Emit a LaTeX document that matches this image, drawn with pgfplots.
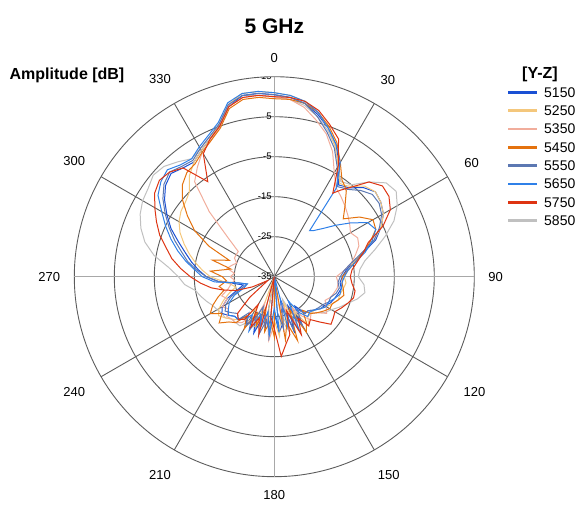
\documentclass[border=0pt]{standalone}
\usepackage{fontspec}
\setmainfont{Liberation Sans}
\usepackage{pgfplots}
\pgfplotsset{compat=1.18}
\usepackage{pgfplotstable}
\usepgfplotslibrary{polar}

\definecolor{c5150}{HTML}{1A50D4}
\definecolor{c5250}{HTML}{F4C77C}
\definecolor{c5350}{HTML}{F1AD9C}
\definecolor{c5450}{HTML}{E4720E}
\definecolor{c5550}{HTML}{5C78B2}
\definecolor{c5650}{HTML}{2F80E8}
\definecolor{c5750}{HTML}{DE3412}
\definecolor{c5850}{HTML}{C0C0C0}
\definecolor{griddark}{HTML}{5C5C5C}
\definecolor{gridlight}{HTML}{A8A8A8}

% compass angle (clockwise from top), amplitude in dB per frequency
\pgfplotstableread{
a     s5150 s5250 s5350 s5450 s5550 s5650 s5750 s5850
0     10.5  11    10    9.5   10.5  11    10    10
5     10    10.5  9.5   9.5   10    10.5  10    9.5
10    9     9.5   8     9     9     9.5   9.5   8.5
15    7     7.5   5.5   7.5   6.5   7.5   8     6.5
20    4.5   4.5   3     5     3.5   4.5   5.5   4
25    1.5   1     -0.5  2     0.5   1.5   3     1
30    -2.5  -3    -5    -2    -3.5  -2    -3    -3
35    -7    -6.5  -8    -5.5  -7.5  -8    -9.5  -6
37.5  -6.5  -6.2  -8.5  -6.2  -7    -20.5 -7.7  -5.5
40    -6    -5.5  -9    -7    -6.5  -20   -6    -5
45    -3.5  -3    -10   -10   -4.5  -18   -1.5  -1.5
50    -2    -2    -11   -12.5 -3    -15   0.3   1.5
55    -2.5  -2.5  -12   -9    -3    -11.5 0     2.2
60    -3.5  -3.5  -13   -6.5  -4    -8    -1.5  0.5
65    -5.5  -5.5  -12   -7    -6    -7    -5    -2
70    -8    -8.5  -12.5 -9.5  -8.5  -9    -10   -5.5
75    -12   -12.5 -14   -12   -12.5 -11.5 -12   -9
80    -15   -15   -15.5 -14.5 -15.5 -14.5 -14   -12
85    -17   -16.5 -17.5 -16.5 -17.5 -16.5 -15.5 -13.5
90    -18   -17.5 -19.5 -18   -18.5 -17.5 -16   -14
95    -18.5 -17   -19   -18   -19   -18   -15.5 -12.5
100   -18   -17.5 -19   -17.5 -18.5 -18   -14.5 -12
105   -18.5 -18   -19.5 -17   -19   -18   -14.5 -13.5
110   -19   -18   -20   -18   -20   -19   -15.5 -15.5
115   -19.5 -19   -21   -19   -20   -20   -16.5 -17
120   -20.5 -20   -20   -19   -21   -20   -17.5 -18.5
125   -21   -21   -19   -20   -21.5 -21   -17   -19.5
130   -22   -22   -21   -21   -22   -22   -16.5 -21
135   -23   -22   -22   -22   -23   -22.5 -19   -22
140   -23   -22   -21   -24   -23   -22   -21   -24
145   -26   -20   -23   -21   -25   -24   -20   -26
150   -22   -25   -26   -19   -21   -28   -23   -22
155   -27   -21   -22   -26   -24   -20   -19   -25
160   -20   -28   -25   -18   -21   -25   -26   -29
165   -29   -22   -28   -23   -27   -22   -20   -21
170   -23   -26   -21   -19   -22   -35   -18   -24
175   -21   -20   -33   -35   -26   -21   -15   -22
180   -26   -24   -23   -20   -35   -27   -22   -26
185   -35   -21   -19   -24   -21   -20   -25   -19
190   -22   -27   -25   -21   -24   -26   -35   -35
195   -25   -35   -22   -27   -20   -22   -20   -23
200   -20   -22   -28   -22   -27   -25   -24   -21
205   -24   -21   -22   -25   -23   -20   -21   -25
210   -21   -26   -24   -20   -21   -24   -27   -22
215   -23   -22   -21   -23   -24   -22   -22   -20
220   -21   -21   -20   -20   -21   -21   -21   -20
225   -21   -20   -20   -19   -22   -21   -22   -20
230   -20   -19   -19.5 -17   -21   -20   -27   -19
235   -19   -18   -21   -19   -20   -21   -32   -19
240   -20   -19   -20   -16.5 -21   -22   -33   -18.5
245   -22   -21   -22   -18   -23   -24   -29   -18
250   -25   -23   -21   -20   -26   -27   -25   -17
255   -27   -25   -23   -22   -28   -28   -22   -16
260   -25   -24   -24   -21   -26   -26   -19   -15
265   -21   -22   -25   -23   -21   -20   -16.5 -12.5
270   -18   -19   -24   -22   -18   -17   -14   -11
275   -16   -17   -25   -19   -15.5 -15   -11.5 -8.5
280   -14   -15   -23   -24   -13   -12.5 -9    -4.5
285   -12   -13   -24   -19   -11   -10   -7    -1.5
290   -9.5  -11   -25   -23   -8.5  -7.5  -4.5  0.5
295   -6.5  -9    -24   -17   -6    -5    -2.5  2
300   -4    -7.5  -24   -12   -3.5  -2.5  -0.5  3
305   -1.5  -6.5  -24   -8.5  -1    0.5   1.5   3.5
310   0.5   -6    -20   -5    1     2     2.5   4.5
315   1.5   -5    -12   -2.5  2     2.8   2     4
320   0.5   -2    -4    -1    1     1.5   0.5   2.5
325   0     0     -1.5  -0.5  0.5   1     -6    1
330   1.5   1.5   1     1     2     2.5   0.5   2
335   3     3     2.5   2.5   3.5   4     3     3.5
340   5     5.5   5     4.5   5.5   6     5     5.5
345   9     9.5   9     8.5   9.5   10    9     9.5
350   11    11.5  10.5  10    11    11.5  10.5  11
355   11    11.5  10.5  10    11    11.5  10.5  10.5
360   10.5  11    10    9.5   10.5  11    10    10
}\pattab

\pgfplotsset{
  pat/.style={line width=1pt, no marks},
}

\begin{document}
\begin{tikzpicture}[x=1pt,y=1pt]
\useasboundingbox (0,0) rectangle (579,504);
\begin{polaraxis}[
  at={(274.3pt,227.3pt)}, anchor=center,
  width=400pt, height=400pt, scale only axis,
  xmin=0, xmax=360, ymin=0, ymax=50,
  xtick={30,60,120,150,210,240,300,330},
  xticklabels={60,30,330,300,240,210,150,120},
  extra x ticks={0,90,180,270},
  extra x tick labels={90,0,270,180},
  extra x tick style={grid style={draw=gridlight, line width=1.5pt}},
  ytick={10,20,30,40},
  yticklabels={},
  xmajorgrids, ymajorgrids,
  grid style={draw=griddark, line width=0.9pt},
  major tick length=0pt,
  separate axis lines,
  x axis line style={draw=griddark, line width=0.9pt},
  y axis line style={draw=none},
  xticklabel style={font=\fontsize{13}{13}\selectfont, inner sep=14pt},
]
\addplot[c5850, pat] table[x expr={90-\thisrow{a}}, y expr={max(\thisrow{s5850}+35,0)}] {\pattab};
\addplot[c5150, pat] table[x expr={90-\thisrow{a}}, y expr={max(\thisrow{s5150}+35,0)}] {\pattab};
\addplot[c5250, pat] table[x expr={90-\thisrow{a}}, y expr={max(\thisrow{s5250}+35,0)}] {\pattab};
\addplot[c5350, pat] table[x expr={90-\thisrow{a}}, y expr={max(\thisrow{s5350}+35,0)}] {\pattab};
\addplot[c5450, pat] table[x expr={90-\thisrow{a}}, y expr={max(\thisrow{s5450}+35,0)}] {\pattab};
\addplot[c5550, pat] table[x expr={90-\thisrow{a}}, y expr={max(\thisrow{s5550}+35,0)}] {\pattab};
\addplot[c5650, pat] table[x expr={90-\thisrow{a}}, y expr={max(\thisrow{s5650}+35,0)}] {\pattab};
\addplot[c5750, pat] table[x expr={90-\thisrow{a}}, y expr={max(\thisrow{s5750}+35,0)}] {\pattab};

\node[anchor=east, inner sep=0pt, xshift=-2.5pt, font=\fontsize{9.5}{10}\selectfont] at (axis cs:90,0) {-35};
\node[anchor=east, inner sep=0pt, xshift=-2.5pt, font=\fontsize{9.5}{10}\selectfont] at (axis cs:90,10) {-25};
\node[anchor=east, inner sep=0pt, xshift=-2.5pt, font=\fontsize{9.5}{10}\selectfont] at (axis cs:90,20) {-15};
\node[anchor=east, inner sep=0pt, xshift=-2.5pt, font=\fontsize{9.5}{10}\selectfont] at (axis cs:90,30) {-5};
\node[anchor=east, inner sep=0pt, xshift=-2.5pt, font=\fontsize{9.5}{10}\selectfont] at (axis cs:90,40) {5};
\node[anchor=east, inner sep=0pt, xshift=-2.5pt, font=\fontsize{9.5}{10}\selectfont] at (axis cs:90,50) {15};
\end{polaraxis}
\node[font=\fontsize{21}{21}\selectfont\bfseries] at (274.3,478) {5 GHz};
\node[font=\fontsize{16}{16}\selectfont\bfseries] at (67,429) {Amplitude [dB]};
\node[font=\fontsize{16}{16}\selectfont\bfseries] at (540,430) {[Y-Z]};
% legend
\foreach \c/\t/\y in {c5150/5150/411.7, c5250/5250/393.3, c5350/5350/375,
    c5450/5450/356.7, c5550/5550/338.3, c5650/5650/320, c5750/5750/301.7,
    c5850/5850/283.3}{
  \draw[\c, line width=2.6pt] (508,\y) -- (537,\y);
  \node[anchor=west, inner sep=0pt, font=\fontsize{14}{14}\selectfont] at (544,\y) {\t};
}
\end{tikzpicture}
\end{document}
